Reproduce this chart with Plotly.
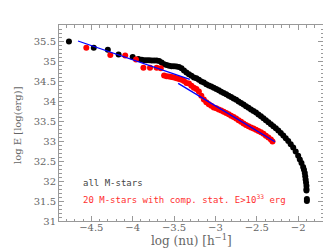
import plotly.graph_objects as go

# all M-stars (black)
all_x = [-4.77, -4.47, -4.30, -4.17, -4.00, -3.93, -3.89, -3.86, -3.83, -3.80, -3.77, -3.74, -3.71, -3.68,
         -3.65, -3.62, -3.59, -3.56, -3.53, -3.50, -3.47, -3.44, -3.41, -3.38, -3.35, -3.32, -3.29, -3.26,
         -3.23, -3.20, -3.17, -3.14, -3.11, -3.08, -3.05, -3.02, -2.99, -2.96, -2.93, -2.90, -2.87, -2.84,
         -2.81, -2.78, -2.75, -2.72, -2.69, -2.66, -2.63, -2.60, -2.57, -2.54, -2.51, -2.48, -2.45, -2.42,
         -2.39, -2.36, -2.33, -2.30, -2.27, -2.24, -2.21, -2.18, -2.15, -2.12, -2.09, -2.06, -2.03, -2.00,
         -1.98, -1.96, -1.94, -1.93, -1.92, -1.915, -1.91, -1.905, -1.90, -1.90, -1.90, -1.895, -1.895]
all_y = [35.49, 35.33, 35.28, 35.16, 35.10, 35.05, 35.03, 35.02, 35.02, 35.02, 35.01, 35.01, 35.01, 35.00,
         34.96, 34.92, 34.90, 34.88, 34.87, 34.87, 34.86, 34.85, 34.82, 34.76, 34.71, 34.67, 34.63, 34.59,
         34.57, 34.53, 34.49, 34.46, 34.42, 34.39, 34.36, 34.33, 34.30, 34.27, 34.23, 34.20, 34.17, 34.13,
         34.10, 34.06, 34.03, 33.99, 33.95, 33.91, 33.87, 33.83, 33.79, 33.75, 33.71, 33.66, 33.62, 33.57,
         33.52, 33.47, 33.42, 33.37, 33.32, 33.26, 33.20, 33.14, 33.07, 33.00, 32.92, 32.84, 32.74, 32.63,
         32.54, 32.45, 32.35, 32.28, 32.20, 32.12, 32.04, 31.96, 31.88, 31.80, 31.76, 31.55, 31.50]

# 20 M-stars with complete statistics (red)
sel_x = [-4.56, -4.27, -4.09, -3.96, -3.87, -3.79, -3.71, -3.66, -3.62, -3.59, -3.56, -3.53, -3.50, -3.47,
         -3.44, -3.41, -3.38, -3.35, -3.32, -3.29, -3.26, -3.23, -3.20, -3.17, -3.14, -3.11, -3.08, -3.05,
         -3.02, -2.99, -2.96, -2.93, -2.90, -2.87, -2.84, -2.81, -2.78, -2.75, -2.72, -2.69, -2.66, -2.63,
         -2.60, -2.57, -2.54, -2.51, -2.48, -2.45, -2.42, -2.39, -2.36, -2.33, -2.31]
sel_y = [35.33, 35.15, 35.14, 35.04, 34.83, 34.83, 34.83, 34.82, 34.64, 34.62, 34.61, 34.60, 34.59, 34.57,
         34.55, 34.53, 34.50, 34.45, 34.44, 34.38, 34.33, 34.30, 34.24, 34.13, 34.04, 33.97, 33.92, 33.88,
         33.84, 33.82, 33.79, 33.76, 33.73, 33.70, 33.67, 33.63, 33.60, 33.56, 33.52, 33.48, 33.44, 33.40,
         33.37, 33.34, 33.31, 33.28, 33.25, 33.22, 33.18, 33.13, 33.09, 33.04, 32.99]

# power-law fits (blue)
fit1_x = [-4.66, -3.31]
fit1_y = [35.50, 34.54]
fit2_x = [-3.45, -2.28]
fit2_y = [34.44, 32.98]

x_ticks = [-4.5, -4, -3.5, -3, -2.5, -2]
y_ticks = [31, 31.5, 32, 32.5, 33, 33.5, 34, 34.5, 35, 35.5]

fig = go.Figure()
fig.add_trace(go.Scatter(x=all_x, y=all_y, mode="markers",
                         marker=dict(color="black", size=6), showlegend=False))
fig.add_trace(go.Scatter(x=sel_x, y=sel_y, mode="markers",
                         marker=dict(color="#ff0000", size=6), showlegend=False))
fig.add_trace(go.Scatter(x=fit1_x, y=fit1_y, mode="lines",
                         line=dict(color="#0000ff", width=1.3), showlegend=False))
fig.add_trace(go.Scatter(x=fit2_x, y=fit2_y, mode="lines",
                         line=dict(color="#0000ff", width=1.3), showlegend=False))

fig.add_annotation(x=-4.62, y=31.96, xref="x", yref="y", text="all M-stars", showarrow=False,
                   xanchor="left", yanchor="middle",
                   font=dict(family="DejaVu Sans Mono", size=9, color="#444444"))
fig.add_annotation(x=-4.62, y=31.54, xref="x", yref="y",
                   text="20 M-stars with comp. stat. E>10<sup>33</sup> erg", showarrow=False,
                   xanchor="left", yanchor="middle",
                   font=dict(family="DejaVu Sans Mono", size=9, color="#ff3030"))

# axis titles
fig.add_annotation(x=0.5, y=-0.095, xref="paper", yref="paper", text="log (nu) [h<sup>\u22121</sup>]",
                   showarrow=False, xanchor="center", yanchor="middle",
                   font=dict(family="DejaVu Serif", size=12, color="#666666"))
fig.add_annotation(x=-0.155, y=0.49, xref="paper", yref="paper", text="log E [log(erg)]",
                   showarrow=False, xanchor="center", yanchor="middle", textangle=-90,
                   font=dict(family="DejaVu Serif", size=10, color="#666666"))

tick_font = dict(family="DejaVu Serif", size=10, color="#666666")
axis_common = dict(showline=True, linecolor="#999999", linewidth=1, mirror="ticks",
                   ticks="inside", ticklen=5, tickcolor="#999999", showgrid=False, zeroline=False,
                   tickfont=tick_font)

fig.update_layout(
    width=331, height=252,
    margin=dict(l=51, r=16, t=17, b=39),
    paper_bgcolor="white", plot_bgcolor="white",
    xaxis=dict(range=[-4.89, -1.70], tickvals=x_ticks,
               ticktext=["\u22124.5", "\u22124", "\u22123.5", "\u22123", "\u22122.5", "\u22122"],
               minor=dict(dtick=0.1, ticks="inside", ticklen=2.5, tickcolor="#999999"),
               ticklabelstandoff=-3,
               **axis_common),
    yaxis=dict(range=[31.0, 35.9], tickvals=y_ticks,
               ticktext=[str(v) if v % 1 else str(int(v)) for v in y_ticks],
               minor=dict(dtick=0.1, ticks="inside", ticklen=2.5, tickcolor="#999999"),
               **axis_common),
)

fig.write_html("out.html")
